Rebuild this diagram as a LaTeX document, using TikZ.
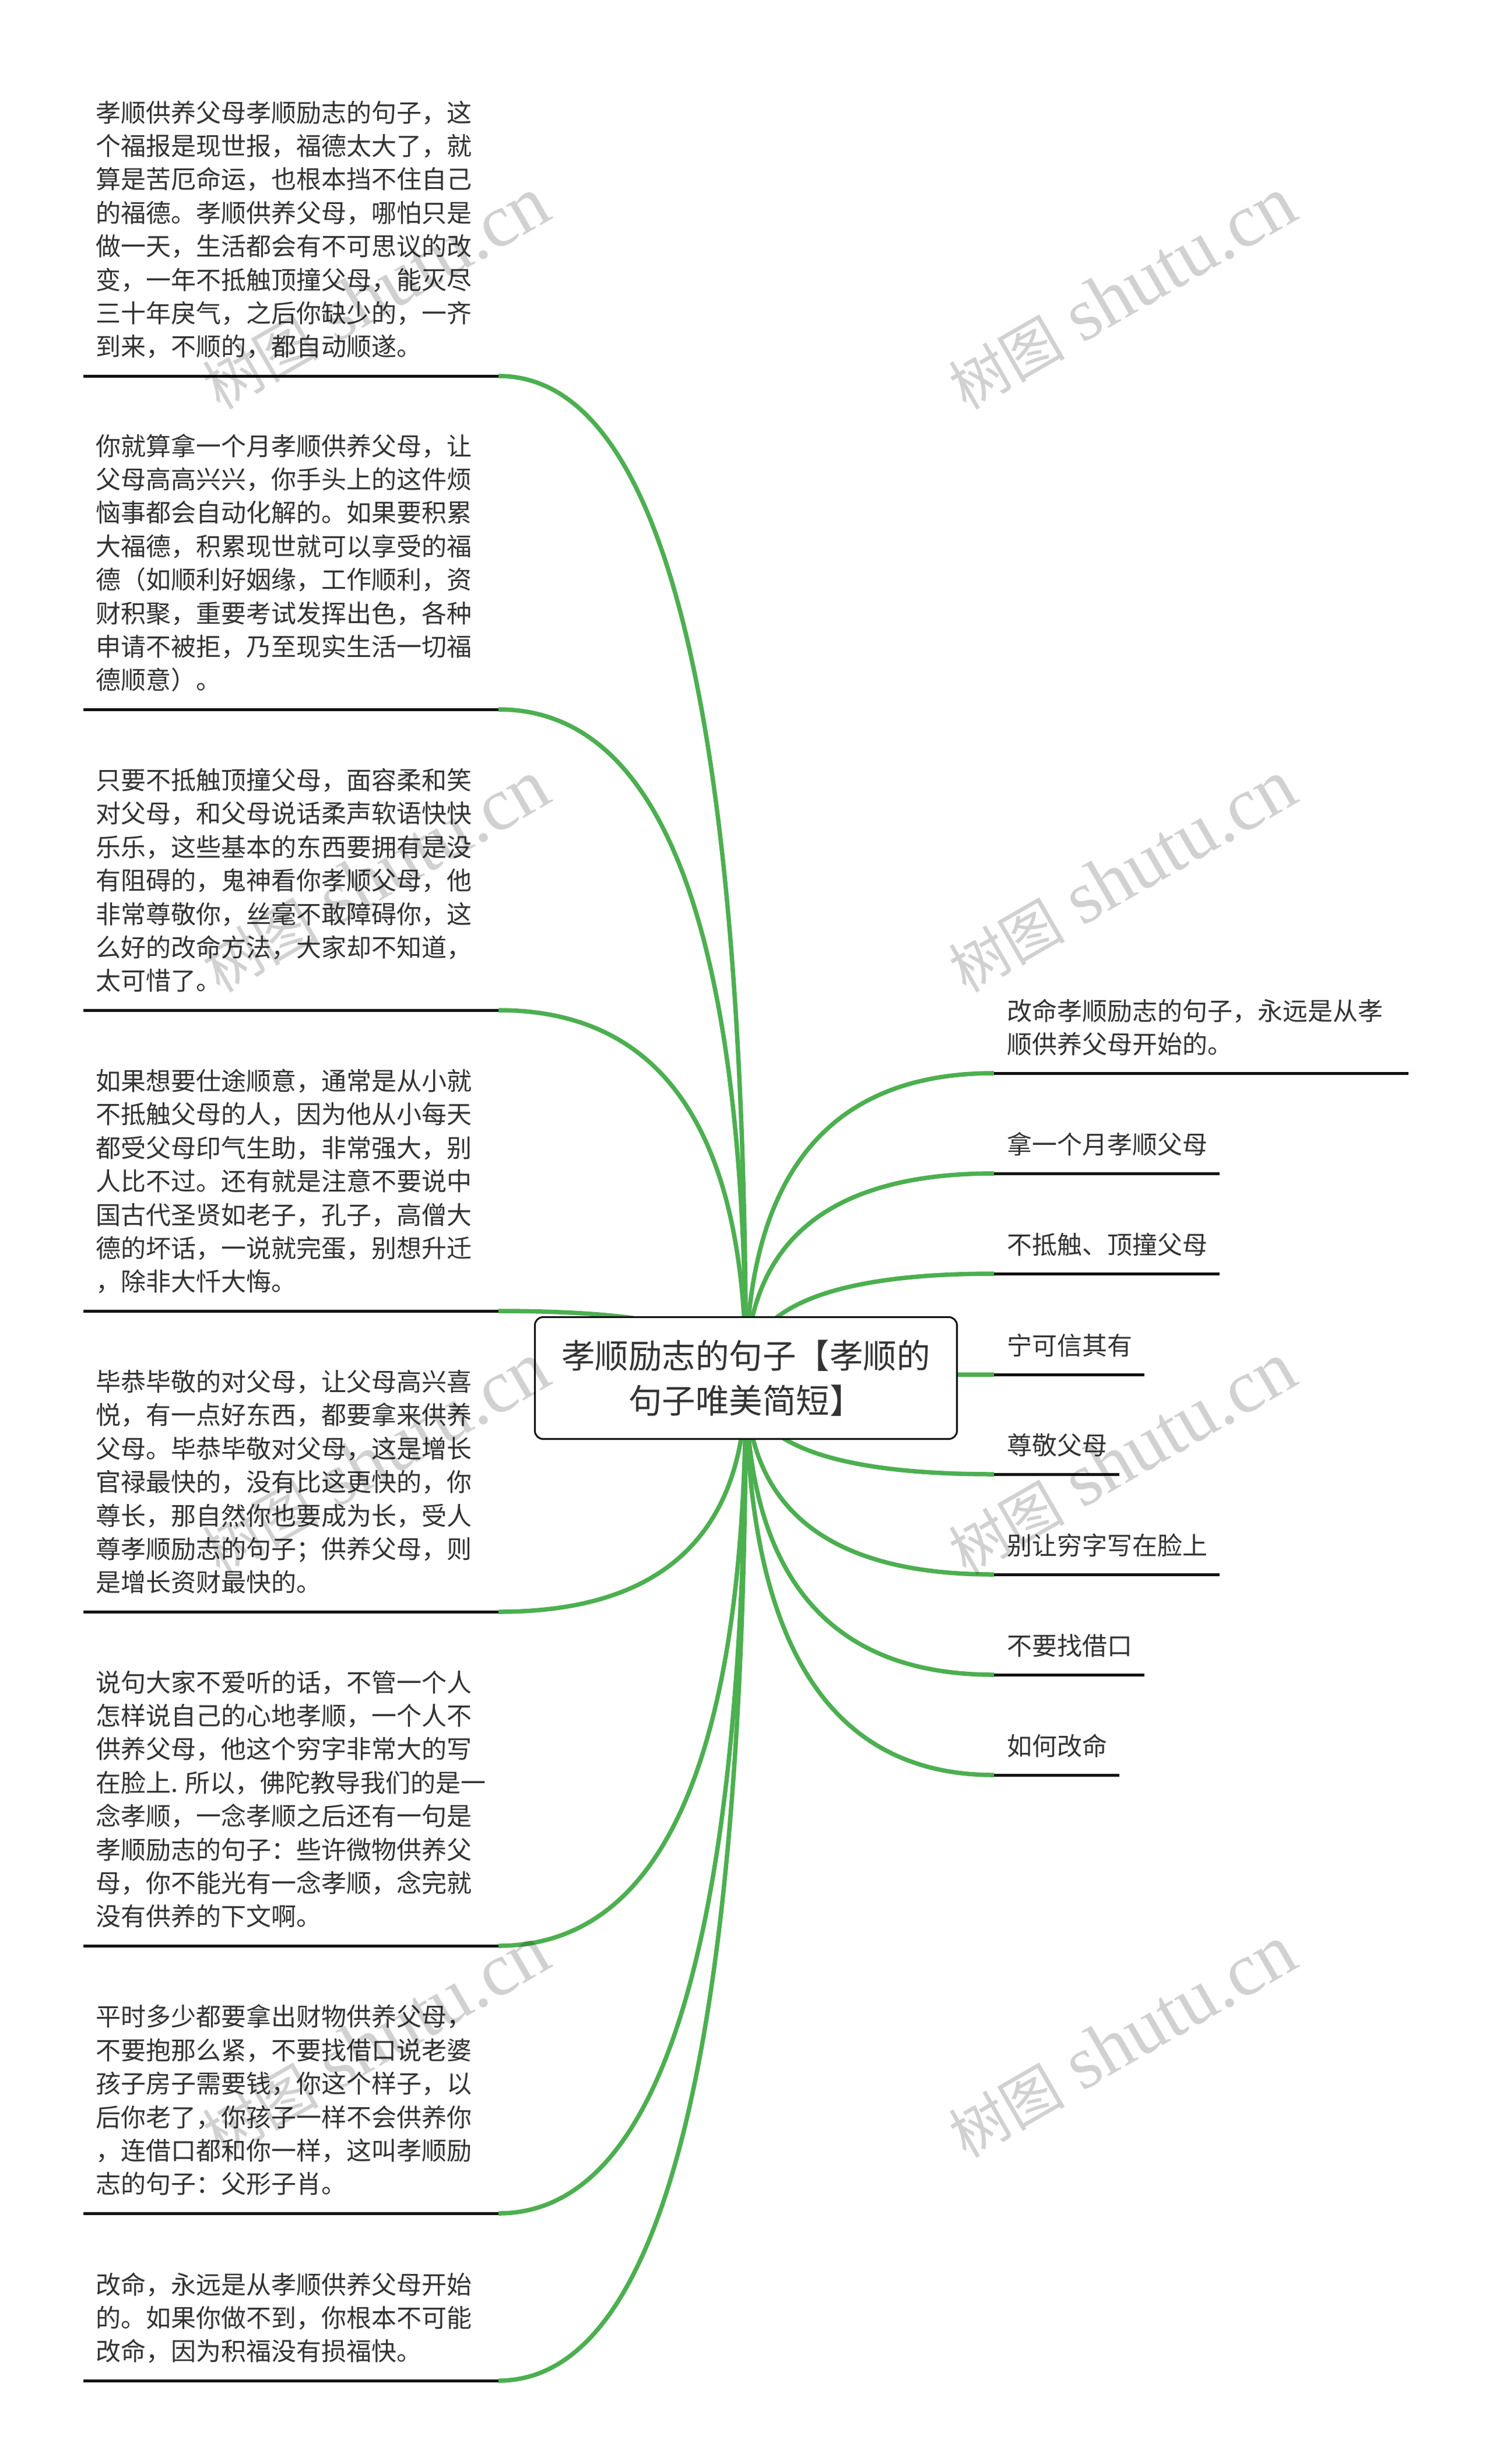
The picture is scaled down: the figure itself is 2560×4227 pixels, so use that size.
\documentclass[tikz,border=0pt]{standalone}
\usepackage{fontspec}
\setmainfont{Noto Sans CJK SC}
\newfontfamily\wmlatin{Liberation Serif}
\usetikzlibrary{calc,backgrounds}
\definecolor{branchgreen}{HTML}{4CAF50}
\definecolor{inkdark}{HTML}{333333}
\definecolor{barblack}{HTML}{111111}
\newcommand{\lastline}{\rule[-9pt]{0pt}{1pt}}
\tikzset{
  x=1pt,y=-1pt,
  conn/.style={draw=branchgreen,line width=7.5pt},
  bar/.style={draw=barblack,line width=5pt},
  hubbox/.style={draw=barblack,line width=3pt,rounded corners=14pt,fill=white,
    minimum width=724pt,minimum height=209pt,inner sep=0pt,align=center,text=inkdark,
    font=\fontsize{57.5}{77}\selectfont},
  leftnote/.style={anchor=south west,inner sep=0pt,align=left,text=inkdark,
    font=\fontsize{43}{57.4}\selectfont},
  rightnote/.style={anchor=south west,inner sep=0pt,align=left,text=inkdark,
    font=\fontsize{43}{57.4}\selectfont},
  wm/.style={anchor=base east,rotate=30,inner sep=0pt,text=black,opacity=0.18},
}
\newcommand{\wmtext}{{\fontsize{100}{100}\selectfont 树图}\hspace{30pt}{\wmlatin\fontsize{129}{129}\selectfont shutu.cn}}
\begin{document}
\begin{tikzpicture}
\useasboundingbox (0,0) rectangle (2560,4227);
\node[hubbox] (hub) at (1279.5,2364) {孝顺励志的句子【孝顺的\\句子唯美简短】};

% left underline start/end points
\coordinate (la) at (855,645);  \coordinate (lae) at (143,645);
\coordinate (lb) at (855,1217); \coordinate (lbe) at (143,1217);
\coordinate (lc) at (855,1733); \coordinate (lce) at (143,1733);
\coordinate (ld) at (855,2249); \coordinate (lde) at (143,2249);
\coordinate (le) at (855,2765); \coordinate (lee) at (143,2765);
\coordinate (lf) at (855,3338); \coordinate (lfe) at (143,3338);
\coordinate (lg) at (855,3797); \coordinate (lge) at (143,3797);
\coordinate (lh) at (855,4084); \coordinate (lhe) at (143,4084);
% right underline start/end points
\coordinate (ra) at (1705,1841); \coordinate (rae) at (2416,1841);
\coordinate (rb) at (1705,2013); \coordinate (rbe) at (2092,2013);
\coordinate (rc) at (1705,2185); \coordinate (rce) at (2092,2185);
\coordinate (rd) at (1705,2358); \coordinate (rde) at (1963,2358);
\coordinate (re) at (1705,2529); \coordinate (ree) at (1920,2529);
\coordinate (rf) at (1705,2701); \coordinate (rfe) at (2092,2701);
\coordinate (rg) at (1705,2873); \coordinate (rge) at (1963,2873);
\coordinate (rh) at (1705,3045); \coordinate (rhe) at (1920,3045);

\begin{scope}[on background layer]
  \fill[white] (0,0) rectangle (2560,4227);
  \foreach \p in {la,lb,lc,ld,le,lf,lg,lh,ra,rb,rc,rd,re,rf,rg,rh}{
    \draw[conn] (hub.center) .. controls ($(hub.center)!2/3!(hub.center|-\p)$) and ($(\p)!2/3!(hub.center|-\p)$) .. (\p);
    \draw[bar] (\p) -- (\p e);
  }
\end{scope}

\node[leftnote] (ta) at ([shift={(21,-25)}]lae) {孝顺供养父母孝顺励志的句子，这\\个福报是现世报，福德太大了，就\\算是苦厄命运，也根本挡不住自己\\的福德。孝顺供养父母，哪怕只是\\做一天，生活都会有不可思议的改\\变，一年不抵触顶撞父母，能灭尽\\三十年戾气，之后你缺少的，一齐\\到来，不顺的，都自动顺遂。\lastline};
\node[leftnote] (tb) at ([shift={(21,-25)}]lbe) {你就算拿一个月孝顺供养父母，让\\父母高高兴兴，你手头上的这件烦\\恼事都会自动化解的。如果要积累\\大福德，积累现世就可以享受的福\\德（如顺利好姻缘，工作顺利，资\\财积聚，重要考试发挥出色，各种\\申请不被拒，乃至现实生活一切福\\德顺意）。\lastline};
\node[leftnote] (tc) at ([shift={(21,-25)}]lce) {只要不抵触顶撞父母，面容柔和笑\\对父母，和父母说话柔声软语快快\\乐乐，这些基本的东西要拥有是没\\有阻碍的，鬼神看你孝顺父母，他\\非常尊敬你，丝毫不敢障碍你，这\\么好的改命方法，大家却不知道，\\太可惜了。\lastline};
\node[leftnote] (td) at ([shift={(21,-25)}]lde) {如果想要仕途顺意，通常是从小就\\不抵触父母的人，因为他从小每天\\都受父母印气生助，非常强大，别\\人比不过。还有就是注意不要说中\\国古代圣贤如老子，孔子，高僧大\\德的坏话，一说就完蛋，别想升迁\\，除非大忏大悔。\lastline};
\node[leftnote] (te) at ([shift={(21,-25)}]lee) {毕恭毕敬的对父母，让父母高兴喜\\悦，有一点好东西，都要拿来供养\\父母。毕恭毕敬对父母，这是增长\\官禄最快的，没有比这更快的，你\\尊长，那自然你也要成为长，受人\\尊孝顺励志的句子；供养父母，则\\是增长资财最快的。\lastline};
\node[leftnote] (tf) at ([shift={(21,-25)}]lfe) {说句大家不爱听的话，不管一个人\\怎样说自己的心地孝顺，一个人不\\供养父母，他这个穷字非常大的写\\在脸上. 所以，佛陀教导我们的是一\\念孝顺，一念孝顺之后还有一句是\\孝顺励志的句子：些许微物供养父\\母，你不能光有一念孝顺，念完就\\没有供养的下文啊。\lastline};
\node[leftnote] (tg) at ([shift={(21,-25)}]lge) {平时多少都要拿出财物供养父母，\\不要抱那么紧，不要找借口说老婆\\孩子房子需要钱，你这个样子，以\\后你老了，你孩子一样不会供养你\\，连借口都和你一样，这叫孝顺励\\志的句子：父形子肖。\lastline};
\node[leftnote] (th) at ([shift={(21,-25)}]lhe) {改命，永远是从孝顺供养父母开始\\的。如果你做不到，你根本不可能\\改命，因为积福没有损福快。\lastline};

\node[rightnote] (sa) at ([shift={(22,-24)}]ra) {改命孝顺励志的句子，永远是从孝\\顺供养父母开始的。\lastline};
\node[rightnote] (sb) at ([shift={(22,-24)}]rb) {拿一个月孝顺父母\lastline};
\node[rightnote] (sc) at ([shift={(22,-24)}]rc) {不抵触、顶撞父母\lastline};
\node[rightnote] (sd) at ([shift={(22,-24)}]rd) {宁可信其有\lastline};
\node[rightnote] (se) at ([shift={(22,-24)}]re) {尊敬父母\lastline};
\node[rightnote] (sf) at ([shift={(22,-24)}]rf) {别让穷字写在脸上\lastline};
\node[rightnote] (sg) at ([shift={(22,-24)}]rg) {不要找借口\lastline};
\node[rightnote] (sh) at ([shift={(22,-24)}]rh) {如何改命\lastline};

\node[wm] (wa) at (2232,373)  {\wmtext};
\node[wm] (wb) at (2232,1373) {\wmtext};
\node[wm] (wc) at (2232,2372) {\wmtext};
\node[wm] (wd) at (2232,3372) {\wmtext};
\node[wm] (we) at (952,373)  {\wmtext};
\node[wm] (wf) at (952,1373) {\wmtext};
\node[wm] (wg) at (952,2372) {\wmtext};
\node[wm] (wh) at (952,3372) {\wmtext};
\end{tikzpicture}
\end{document}
